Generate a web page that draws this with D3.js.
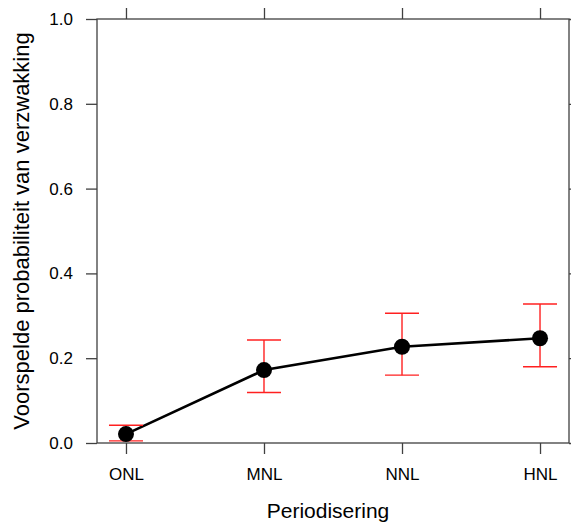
<!DOCTYPE html>
<html><head><meta charset="utf-8">
<script src="https://cdn.jsdelivr.net/npm/d3@7"></script>
<style>body{margin:0;background:#fff}svg{display:block}text{font-family:"Liberation Sans",Arial,sans-serif;fill:#000}</style>
</head><body><svg id="c" width="571" height="522"></svg>
<script>
const categories = ["ONL","MNL","NNL","HNL"];
const estimates = [0.021, 0.172, 0.227, 0.247];
const lower = [0.005, 0.119, 0.160, 0.180];
const upper = [0.042, 0.243, 0.306, 0.328];
const yTicks = [0, 0.2, 0.4, 0.6, 0.8, 1.0];
const xTitle = "Periodisering";
const yTitle = "Voorspelde probabiliteit van verzwakking";

const svg = d3.select("#c");
const L = 97, R = 569, T = 19, B = 443;
const x = d3.scaleLinear().domain([0.79, 4.21]).range([L, R]);
const y = d3.scaleLinear().domain([0, 1]).range([B, T]);
const axisCol = "#404040";

// frame
svg.append("rect").attr("x", L).attr("y", T).attr("width", R - L).attr("height", B - T)
  .attr("fill", "none").attr("stroke", axisCol).attr("stroke-width", 1.3);

// axes
const fmt = d3.format(".1f");
const gl = svg.append("g").attr("transform", `translate(${L},0)`)
  .call(d3.axisLeft(y).tickValues(yTicks).tickFormat(fmt).tickSize(11).tickPadding(13));
const gr = svg.append("g").attr("transform", `translate(${R},0)`)
  .call(d3.axisRight(y).tickValues(yTicks).tickFormat("").tickSize(11));
const gb = svg.append("g").attr("transform", `translate(0,${B})`)
  .call(d3.axisBottom(x).tickValues([1,2,3,4]).tickFormat((d) => categories[d-1]).tickSize(11).tickPadding(14));
const gt = svg.append("g").attr("transform", `translate(0,${T})`)
  .call(d3.axisTop(x).tickValues([1,2,3,4]).tickFormat("").tickSize(11));
[gl, gr, gb, gt].forEach(g => {
  g.select(".domain").remove();
  g.selectAll("line").attr("stroke", axisCol).attr("stroke-width", 1.3);
  g.selectAll("text").attr("font-size", 17).attr("fill", "#111");
});

// titles
svg.append("text").attr("x", (L + R) / 2 - 5).attr("y", 518).attr("text-anchor", "middle")
  .attr("font-size", 21).text(xTitle);
svg.append("text").attr("transform", `translate(29,${(T + B) / 2}) rotate(-90)`)
  .attr("text-anchor", "middle").attr("font-size", 22).text(yTitle);

// line
const idx = d3.range(categories.length);
svg.append("path").datum(idx)
  .attr("d", d3.line().x(i => x(i + 1)).y(i => y(estimates[i])))
  .attr("fill", "none").attr("stroke", "#000").attr("stroke-width", 2.6);

// error bars
const eb = svg.append("g").attr("stroke", "#ff2020").attr("stroke-width", 1.4);
idx.forEach(i => {
  const cx = x(i + 1);
  eb.append("line").attr("x1", cx).attr("x2", cx).attr("y1", y(lower[i])).attr("y2", y(upper[i]));
  eb.append("line").attr("x1", cx - 17).attr("x2", cx + 17).attr("y1", y(lower[i])).attr("y2", y(lower[i]));
  eb.append("line").attr("x1", cx - 17).attr("x2", cx + 17).attr("y1", y(upper[i])).attr("y2", y(upper[i]));
});

// points
svg.append("g").selectAll("circle").data(idx).join("circle")
  .attr("cx", i => x(i + 1)).attr("cy", i => y(estimates[i])).attr("r", 8).attr("fill", "#000");
</script></body></html>
